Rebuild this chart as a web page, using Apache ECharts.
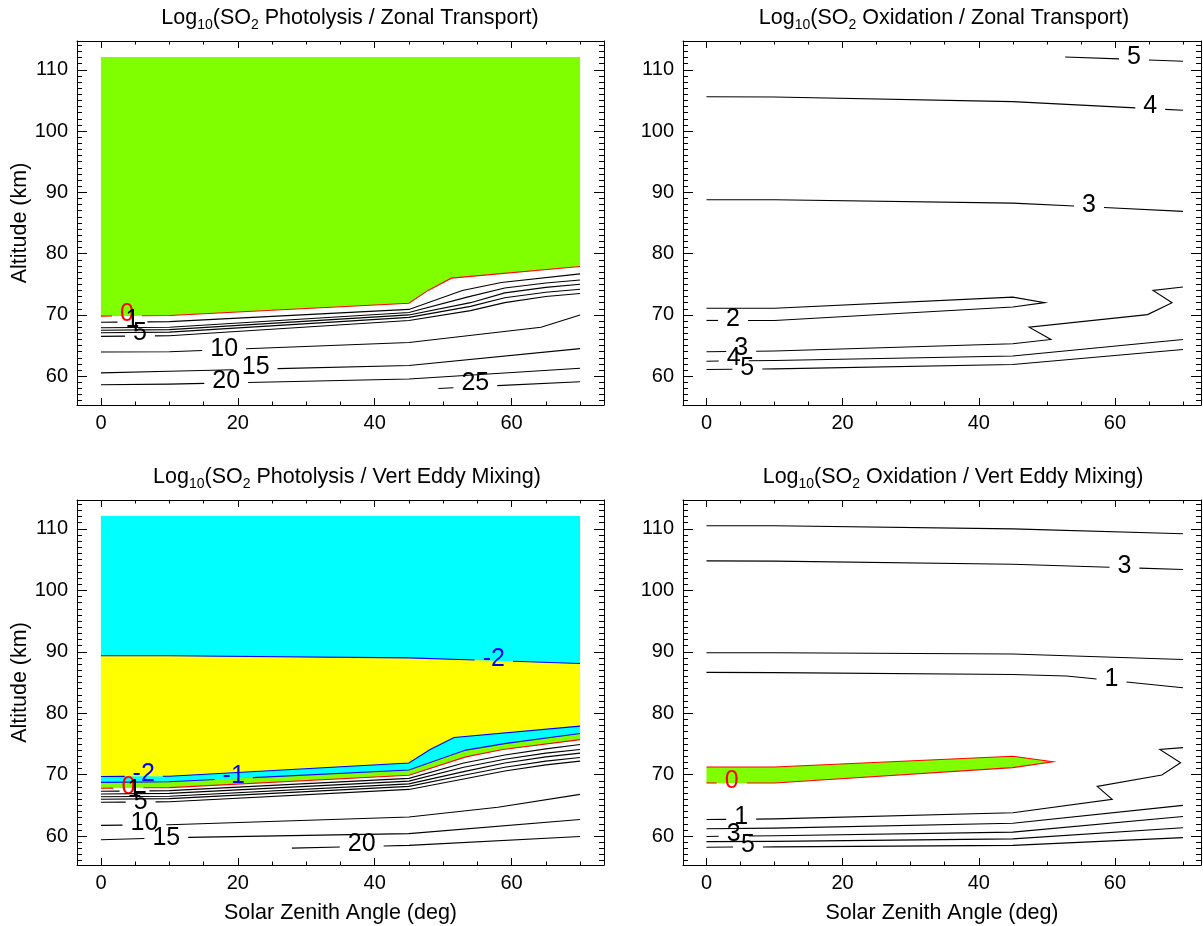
<!DOCTYPE html>
<html><head><meta charset="utf-8">
<script src="https://cdn.jsdelivr.net/npm/echarts@6.0.0/dist/echarts.min.js"></script>
<style>html,body{margin:0;padding:0;background:#fff}#c{width:1203px;height:926px}</style>
</head><body><div id="c"></div>
<script>
// ---------------- DATA ----------------
const X_MAJOR = [0, 20, 40, 60];
const X_MINOR = [0, 5, 10, 15, 20, 25, 30, 35, 40, 45, 50, 55, 60, 65, 70];
const Y_MAJOR = [60, 70, 80, 90, 100, 110];
const Y_MINOR = [56,57,58,59,60,61,62,63,64,65,66,67,68,69,70,71,72,73,74,75,76,77,78,79,80,81,82,83,84,85,86,87,88,89,90,91,92,93,94,95,96,97,98,99,100,101,102,103,104,105,106,107,108,109,110,111,112,113,114];
const X_RANGE_LEFT = [-3.5, 73.5];
const X_RANGE_RIGHT = [-3.45, 72.65];
const Y_RANGE = [55.3, 114.7];
const DATA_TOP = 112.1;

const TITLES = [
  'Log{s|10}(SO{s|2} Photolysis / Zonal Transport)',
  'Log{s|10}(SO{s|2} Oxidation / Zonal Transport)',
  'Log{s|10}(SO{s|2} Photolysis / Vert Eddy Mixing)',
  'Log{s|10}(SO{s|2} Oxidation / Vert Eddy Mixing)'
];
const X_NAME = 'Solar Zenith Angle (deg)';
const Y_NAME = 'Altitude (km)';

// Panel 1: Photolysis / Zonal Transport  (contour lines as [SZA, altitude])
const P1_L0  = [[0,69.8],[10,69.9],[45,71.9],[47.8,74.0],[51.2,76.0],[70,77.9]];
const P1_L1  = [[0,68.8],[10,68.9],[45,70.9],[52.8,74.0],[58.5,75.3],[70,76.7]];
const P1_L2  = [[0,67.9],[10,68.0],[45,70.4],[53.5,72.9],[59,74.4],[65,75.2],[70,75.7]];
const P1_L3  = [[0,67.5],[10,67.6],[45,70.0],[54,72.0],[59,73.6],[65,74.5],[70,75.0]];
const P1_L4  = [[0,67.1],[10,67.2],[45,69.6],[54,71.4],[59,72.8],[65,73.7],[70,74.2]];
const P1_L5  = [[0,66.5],[10,66.6],[45,69.1],[54,70.7],[59,72.0],[65,73.0],[70,73.5]];
const P1_L10 = [[0,63.95],[10,64.0],[45,65.5],[64.3,68.0],[70,70.0]];
const P1_L15 = [[0,60.55],[10,60.8],[45,61.75],[70,64.5]];
const P1_L20 = [[0,58.6],[10,58.7],[45,59.55],[70,61.3]];
const P1_L25 = [[49.3,58.0],[70,59.1]];
const P1_LEVELS = ['0','1','2','3','4','5','10','15','20','25'];
const P1_LABEL_AT = [[3.8,70.1],[4.6,69.2],null,null,null,[5.7,67.0],[18.0,64.5],[22.6,61.5],[18.3,59.2],[54.7,58.9]];

// Panel 2: Oxidation / Zonal Transport
const P2_L2 = [[0,71.1],[10,71.1],[45,72.9],[49.7,72.0],[45,71.3],[10,69.1],[0,69.1]];
const P2_L3 = [[0,64.0],[10,64.1],[45,65.3],[50.6,66.0],[47.4,68.0],[64.8,70.05],[68.4,72.0],[65.6,74.0],[70,74.55]];
const P2_L4 = [[0,62.45],[10,62.55],[45,63.3],[70,66.0]];
const P2_L5 = [[0,61.1],[10,61.2],[45,61.9],[70,64.35]];
const P2_U3 = [[0,88.8],[10,88.8],[45,88.25],[70,86.9]];
const P2_U4 = [[0,105.6],[10,105.55],[45,104.8],[70,103.4]];
const P2_U5 = [[52.7,112.1],[70,111.4]];
const P2_LEVELS = ['2','3','4','5','3','4','5'];
const P2_LABEL_AT = [[3.9,69.3],[5.1,64.6],[4.0,63.0],[6.0,61.4],[56.2,88.0],[65.2,104.0],[62.8,112.0]];

// Panel 3: Photolysis / Vert Eddy Mixing
const P3_U2  = [[0,89.35],[10,89.35],[45,89.0],[70,88.1]];
const P3_M2  = [[0,69.7],[10,69.75],[45,71.9],[48.1,74.1],[51.6,76.05],[70,77.9]];
const P3_M1  = [[0,68.75],[10,68.85],[45,70.75],[53.3,74.0],[59.2,75.1],[70,76.7]];
const P3_L0  = [[0,67.8],[10,67.9],[45,69.9],[53.3,72.9],[58.7,74.1],[70,75.7]];
const P3_L1  = [[0,67.3],[10,67.4],[45,69.4],[53,71.9],[59,73.2],[65,74.2],[70,74.9]];
const P3_L2  = [[0,66.85],[10,66.95],[45,68.95],[53,71.2],[59,72.5],[65,73.5],[70,74.1]];
const P3_L3  = [[0,66.4],[10,66.5],[45,68.5],[53,70.5],[59,71.9],[65,72.9],[70,73.5]];
const P3_L4  = [[0,66.0],[10,66.1],[45,68.1],[53,69.9],[59,71.2],[65,72.2],[70,72.8]];
const P3_L5  = [[0,65.5],[10,65.6],[45,67.6],[53,69.3],[59,70.6],[65,71.6],[70,72.2]];
const P3_L10 = [[0,61.75],[10,61.85],[45,63.1],[58,64.7],[70,66.8]];
const P3_L15 = [[0,59.4],[10,59.75],[45,60.4],[70,62.7]];
const P3_L20 = [[27.9,58.05],[45,58.5],[70,59.95]];
const P3_LEVELS = ['-2','-2','-1','0','1','2','3','4','5','10','15','20'];
const P3_LABEL_AT = [[57.4,88.8],[6.25,70.05],[19.4,69.7],[4.0,67.95],[4.9,67.5],null,null,null,[5.8,65.5],[6.35,62.1],[9.55,59.75],[38.1,58.65]];

// Panel 4: Oxidation / Vert Eddy Mixing
const P4_L0 = [[0,71.25],[10,71.25],[45,73.0],[50.9,72.1],[45,71.15],[10,68.65],[0,68.65]];
const P4_L1 = [[0,62.7],[10,62.8],[45,63.8],[59.6,66.0],[57.4,68.1],[66.9,69.95],[69.65,71.95],[66.6,74.1],[70,74.4]];
const P4_L2 = [[0,61.2],[10,61.3],[45,62.1],[70,65.0]];
const P4_L3 = [[0,59.95],[10,60.05],[45,60.65],[70,63.2]];
const P4_L4 = [[0,59.1],[10,59.15],[45,59.55],[70,61.35]];
const P4_L5 = [[0,58.2],[10,58.25],[45,58.5],[70,59.75]];
const P4_U1 = [[0,86.65],[10,86.6],[45,86.3],[52.9,86.05],[70,84.15]];
const P4_U2 = [[0,89.85],[10,89.85],[45,89.65],[70,88.75]];
const P4_U3 = [[0,104.8],[10,104.75],[45,104.25],[70,103.4]];
const P4_U4 = [[0,110.5],[10,110.5],[45,110.0],[70,109.2]];
const P4_LEVELS = ['0','1','2','3','4','5','1','2','3','4'];
const P4_LABEL_AT = [[3.7,69.0],[5.1,63.1],null,[4.0,60.3],null,[6.1,58.5],[59.5,85.6],null,[61.4,104.0],null];

// ---------------- STYLE ----------------
const FONT = "'Liberation Sans', Arial, Helvetica, sans-serif";
const C_GREEN = '#7fff00', C_CYAN = '#00ffff', C_YELLOW = '#ffff00';
const LBL_FS = 25, PAD = 8, HH = 8, LW = 1.1;
const TICK_FS = 20, NAME_FS = 21.5, TITLE_FS = 21.5, SUB_FS = 14;
const GRIDS = [
  {left:77, top:41, width:527, height:364},
  {left:683, top:41, width:518, height:364},
  {left:77, top:500, width:527, height:365},
  {left:683, top:500, width:518, height:365}
];
const TITLE_POS = [[350,4],[944,4],[347,463],[953,463]];

const mctx = document.createElement('canvas').getContext('2d');
function textW(t){ mctx.font = LBL_FS + 'px ' + FONT; return mctx.measureText(t).width; }
function levelColor(l){ const v = parseFloat(l); return v === 0 ? '#ff0000' : (v < 0 ? '#0000ff' : '#000000'); }

function segInterval(p0, p1, r){
  let t0 = 0, t1 = 1; const dx = p1[0]-p0[0], dy = p1[1]-p0[1];
  const ps = [-dx, dx, -dy, dy], qs = [p0[0]-r.x0, r.x1-p0[0], p0[1]-r.y0, r.y1-p0[1]];
  for (let i = 0; i < 4; i++){
    const p = ps[i], q = qs[i];
    if (p === 0){ if (q < 0) return null; }
    else { const t = q/p; if (p < 0){ if (t > t1) return null; if (t > t0) t0 = t; } else { if (t < t0) return null; if (t < t1) t1 = t; } }
  }
  return t0 < t1 ? [t0, t1] : null;
}
function lerp(a, b, t){ return [a[0]+(b[0]-a[0])*t, a[1]+(b[1]-a[1])*t]; }
function cutPolyline(pts, rects){
  const out = []; let cur = null;
  for (let i = 0; i < pts.length-1; i++){
    const a = pts[i], b = pts[i+1];
    const removed = rects.map(r => segInterval(a, b, r)).filter(Boolean).sort((u,v)=>u[0]-v[0]);
    const kept = []; let t = 0;
    for (const [s, e] of removed){ if (s > t) kept.push([t, s]); t = Math.max(t, e); }
    if (t < 1) kept.push([t, 1]);
    for (const [s, e] of kept){
      const P = lerp(a, b, s), Q = lerp(a, b, e);
      if (cur && s === 0) cur.push(Q); else { cur = [P, Q]; out.push(cur); }
    }
    if (!kept.length || kept[kept.length-1][1] < 1) cur = null;
  }
  return out;
}

const series = [];
function addFill(g, poly, color){
  series.push({type:'custom', coordinateSystem:'cartesian2d', xAxisIndex:g*4, yAxisIndex:g*4, silent:true, z:1, clip:false,
    data:[poly[0]],
    renderItem:(p, api)=>({type:'polygon', shape:{points: poly.map(q=>api.coord(q))}, style:{fill:color, stroke:null}})});
}
function addContours(g, lines, levels, labelAt){
  series.push({type:'custom', coordinateSystem:'cartesian2d', xAxisIndex:g*4, yAxisIndex:g*4, silent:true, z:3, clip:false,
    data: lines.map((l,i)=>[l[0][0], l[0][1], i]),
    renderItem:(params, api)=>{
      const i = params.dataIndex, lvl = levels[i], col = levelColor(lvl), at = labelAt[i];
      const px = lines[i].map(q=>api.coord(q));
      const rects = [], children = [];
      let c = null;
      if (at){ c = api.coord(at); const w = textW(lvl); rects.push({x0:c[0]-w/2-PAD, x1:c[0]+w/2+PAD, y0:c[1]-HH, y1:c[1]+HH}); }
      cutPolyline(px, rects).forEach(seg=>children.push({type:'polyline', shape:{points:seg}, style:{stroke:col, lineWidth:LW, fill:null}}));
      if (c) children.push({type:'text', style:{text:lvl, x:c[0], y:c[1], fill:col, fontSize:LBL_FS, fontFamily:FONT, align:'center', verticalAlign:'middle', textAlign:'center', textVerticalAlign:'middle'}});
      return {type:'group', children};
    }});
}

// fills
addFill(0, P1_L0.concat([[70, DATA_TOP],[0, DATA_TOP]]), C_GREEN);
addFill(2, P3_L0.concat([[70, DATA_TOP],[0, DATA_TOP]]), C_GREEN);
addFill(2, P3_M1.concat([[70, DATA_TOP],[0, DATA_TOP]]), C_CYAN);
addFill(2, P3_M2.concat(P3_U2.slice().reverse()), C_YELLOW);
addFill(3, P4_L0, C_GREEN);
// contours
addContours(0, [P1_L0,P1_L1,P1_L2,P1_L3,P1_L4,P1_L5,P1_L10,P1_L15,P1_L20,P1_L25], P1_LEVELS, P1_LABEL_AT);
addContours(1, [P2_L2,P2_L3,P2_L4,P2_L5,P2_U3,P2_U4,P2_U5], P2_LEVELS, P2_LABEL_AT);
addContours(2, [P3_U2,P3_M2,P3_M1,P3_L0,P3_L1,P3_L2,P3_L3,P3_L4,P3_L5,P3_L10,P3_L15,P3_L20], P3_LEVELS, P3_LABEL_AT);
addContours(3, [P4_L0,P4_L1,P4_L2,P4_L3,P4_L4,P4_L5,P4_U1,P4_U2,P4_U3,P4_U4], P4_LEVELS, P4_LABEL_AT);

// axes
const xAxes = [], yAxes = [];
const tickStyle = {color:'#000', width:1};
const lineStyle = {color:'#000', width:1};
function addAxes(g, xr, xName, yName){
  const cx = {gridIndex:g, type:'value', min:xr[0], max:xr[1], splitLine:{show:false}, silent:true};
  const cy = {gridIndex:g, type:'value', min:Y_RANGE[0], max:Y_RANGE[1], splitLine:{show:false}, silent:true};
  const nameStyle = {color:'#000', fontSize:NAME_FS, fontFamily:FONT};
  xAxes.push({...cx, position:'bottom', axisLine:{show:true, onZero:false, lineStyle},
    axisTick:{show:true, inside:true, length:7, customValues:X_MAJOR, lineStyle:tickStyle},
    axisLabel:{show:true, customValues:X_MAJOR, margin:8, color:'#000', fontSize:TICK_FS, fontFamily:FONT},
    name:xName, nameLocation:'middle', nameGap:37, nameTextStyle:nameStyle});
  xAxes.push({...cx, position:'bottom', axisLine:{show:false, onZero:false}, axisTick:{show:true, inside:true, length:3.5, customValues:X_MINOR, lineStyle:tickStyle}, axisLabel:{show:false}});
  xAxes.push({...cx, position:'top', axisLine:{show:true, onZero:false, lineStyle}, axisTick:{show:true, inside:true, length:7, customValues:X_MAJOR, lineStyle:tickStyle}, axisLabel:{show:false}});
  xAxes.push({...cx, position:'top', axisLine:{show:false, onZero:false}, axisTick:{show:true, inside:true, length:3.5, customValues:X_MINOR, lineStyle:tickStyle}, axisLabel:{show:false}});
  yAxes.push({...cy, position:'left', axisLine:{show:true, onZero:false, lineStyle},
    axisTick:{show:true, inside:true, length:10, customValues:Y_MAJOR, lineStyle:tickStyle},
    axisLabel:{show:true, customValues:Y_MAJOR, margin:9, color:'#000', fontSize:TICK_FS, fontFamily:FONT},
    name:yName, nameLocation:'middle', nameGap:45, nameTextStyle:nameStyle});
  yAxes.push({...cy, position:'left', axisLine:{show:false, onZero:false}, axisTick:{show:true, inside:true, length:5, customValues:Y_MINOR, lineStyle:tickStyle}, axisLabel:{show:false}});
  yAxes.push({...cy, position:'right', axisLine:{show:true, onZero:false, lineStyle}, axisTick:{show:true, inside:true, length:10, customValues:Y_MAJOR, lineStyle:tickStyle}, axisLabel:{show:false}});
  yAxes.push({...cy, position:'right', axisLine:{show:false, onZero:false}, axisTick:{show:true, inside:true, length:5, customValues:Y_MINOR, lineStyle:tickStyle}, axisLabel:{show:false}});
}
addAxes(0, X_RANGE_LEFT, '', Y_NAME);
addAxes(1, X_RANGE_RIGHT, '', '');
addAxes(2, X_RANGE_LEFT, X_NAME, Y_NAME);
addAxes(3, X_RANGE_RIGHT, X_NAME, '');

const titles = TITLES.map((t,i)=>({text:t, left:TITLE_POS[i][0], top:TITLE_POS[i][1], textAlign:'center', padding:0,
  textStyle:{fontFamily:FONT, fontSize:TITLE_FS, fontWeight:'normal', color:'#000', lineHeight:28,
    rich:{s:{fontFamily:FONT, fontSize:SUB_FS, color:'#000', verticalAlign:'bottom', lineHeight:14}}}}));

const chart = echarts.init(document.getElementById('c'), null, {renderer:'canvas', width:1203, height:926});
chart.setOption({
  animation:false,
  backgroundColor:'#fff',
  title: titles,
  grid: GRIDS.map(g=>({...g, containLabel:false, show:false})),
  xAxis: xAxes,
  yAxis: yAxes,
  series: series
});
</script></body></html>
